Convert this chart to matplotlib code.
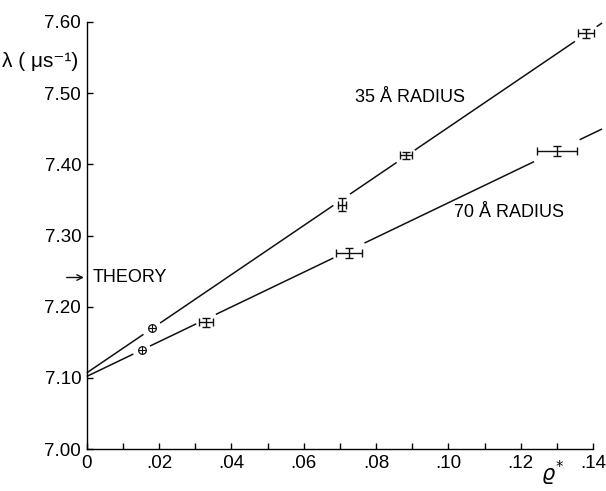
import numpy as np
import matplotlib
matplotlib.use("Agg")
import matplotlib.pyplot as plt
from matplotlib import font_manager

# pick a condensed sans if there is one
names = {f.name for f in font_manager.fontManager.ttflist}
base = "Liberation Sans Narrow" if "Liberation Sans Narrow" in names else "Liberation Sans"
plt.rcParams['font.family'] = [base, 'DejaVu Sans']

# 35 A radius data
x35 = [0.018, 0.0705, 0.0882, 0.138]
y35 = [7.170, 7.343, 7.4125, 7.584]
xerr35 = [0.0, 0.0011, 0.0017, 0.0022]
yerr35 = [0.0, 0.009, 0.0055, 0.006]
fit35 = (7.107, 3.45)  # intercept, slope

# 70 A radius data
x70 = [0.0152, 0.033, 0.0725, 0.130]
y70 = [7.139, 7.178, 7.276, 7.419]
xerr70 = [0.0, 0.0019, 0.0035, 0.0055]
yerr70 = [0.0, 0.006, 0.007, 0.007]
fit70 = (7.102, 2.44)

theory = 7.241
line_x_end = 0.1425

x_ticks = [0, 0.02, 0.04, 0.06, 0.08, 0.10, 0.12, 0.14]
x_tick_labels = ['0', '.02', '.04', '.06', '.08', '.10', '.12', '.14']
y_ticks = [7.00, 7.10, 7.20, 7.30, 7.40, 7.50, 7.60]
y_tick_labels = ['7.00', '7.10', '7.20', '7.30', '7.40', '7.50', '7.60']

fig = plt.figure(figsize=(6.06, 4.91), dpi=100)
ax = fig.add_axes([0.1431, 0.0855, 0.8355, 0.8697])
ax.set_xlim(0, 0.14)
ax.set_ylim(7.00, 7.60)

def draw_series(xs, ys, xe, ye, fit):
    b, m = fit
    # fitted line, broken around each point
    starts = [0.0]
    ends = []
    for x, e in zip(xs, xe):
        g = max(e, 0.0015) + 0.0008
        ends.append(x - g)
        starts.append(x + g)
    ends.append(line_x_end)
    for s, e in zip(starts, ends):
        seg = np.array([s, e])
        ax.plot(seg, b + m * seg, color='#111111', lw=1.1, clip_on=False,
                solid_capstyle='butt')
    for x, y, ex, ey in zip(xs, ys, xe, ye):
        if ex == 0 and ey == 0:
            ax.plot([x], [y], marker='o', ms=5.5, mfc='white', mec='#111111',
                    mew=0.9, clip_on=False)
            ax.plot([x], [y], marker='+', ms=5.5, mec='#111111', mew=0.8,
                    clip_on=False)
        else:
            ax.errorbar([x], [y], xerr=[ex], yerr=[ey], fmt='none',
                        ecolor='#111111', elinewidth=1.0, capsize=2.6,
                        capthick=1.0, clip_on=False)

draw_series(x35, y35, xerr35, yerr35, fit35)
draw_series(x70, y70, xerr70, yerr70, fit70)

ax.text(0.1045, 7.494, '35 Å RADIUS', ha='right', va='center', fontsize=13)
ax.text(0.132, 7.332, '70 Å RADIUS', ha='right', va='center', fontsize=13)

ax.annotate('', xy=(0, theory), xytext=(-0.0063, theory),
            arrowprops=dict(arrowstyle='->', color='#111111', lw=1.0),
            annotation_clip=False)
ax.text(0.0015, theory, 'THEORY', ha='left', va='center', fontsize=13)

ax.text(-0.0233, 7.544, 'λ ( μs⁻¹)', ha='left', va='center', fontsize=15)
ax.text(0.1288, -0.092, r'$\varrho^{*}$', transform=ax.get_xaxis_transform(),
        ha='center', va='bottom', fontsize=15)

for s in ['top', 'right']:
    ax.spines[s].set_visible(False)
ax.spines['bottom'].set_bounds(0, 0.14)
ax.spines['left'].set_bounds(7.00, 7.60)
ax.spines['bottom'].set_linewidth(1.0)
ax.spines['left'].set_linewidth(1.0)

ax.set_xticks(x_ticks)
ax.set_xticklabels(x_tick_labels)
ax.set_xticks(np.arange(0.01, 0.14, 0.02), minor=True)
ax.set_yticks(y_ticks)
ax.set_yticklabels(y_tick_labels)
ax.tick_params(axis='both', which='both', direction='in', length=4,
               width=1.0, labelsize=13.5, pad=4)

fig.savefig('out.png', dpi=100)
